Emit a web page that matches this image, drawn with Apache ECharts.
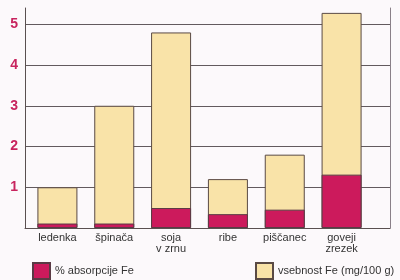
<!DOCTYPE html>
<html><head><meta charset="utf-8">
<script src="https://cdn.jsdelivr.net/npm/echarts@6/dist/echarts.min.js"></script>
<style>html,body{margin:0;padding:0;background:#fcf9fb}#c{width:400px;height:280px}</style>
</head><body><div id="c"></div>
<script>
var categories = ['ledenka', 'špinača', 'soja\nv zrnu', 'ribe', 'piščanec', 'goveji\nzrezek'];
var vsebnostFe = [1.0, 3.0, 4.8, 1.2, 1.8, 5.28];
var absorpcijaFe = [0.11, 0.11, 0.49, 0.34, 0.45, 1.31];
var yTicks = [0, 1, 2, 3, 4, 5];
var nameAbs = '% absorpcije Fe';
var nameVseb = 'vsebnost Fe (mg/100 g)';

var chart = echarts.init(document.getElementById('c'), null, {renderer: 'canvas'});
var font = '"Liberation Sans", Arial, sans-serif';
var lineCol = '#5a5050';
var yMax = 5.4;
var splitColors = yTicks.map(function(){return '#625a5e';}).concat(['rgba(0,0,0,0)']);
chart.setOption({
  backgroundColor: '#fcf9fb',
  animation: false,
  grid: [
    {left: 25, right: 10, top: 8, bottom: 52},
    {left: 29, right: 30, top: 8, bottom: 52}
  ],
  legend: [
    {data: [nameAbs], left: 32, top: 262, itemWidth: 17, itemHeight: 16, padding: 0, icon: 'rect',
     textStyle: {fontFamily: font, fontSize: 11, color: '#333'}},
    {data: [nameVseb], left: 255, top: 262, itemWidth: 17, itemHeight: 16, padding: 0, icon: 'rect',
     textStyle: {fontFamily: font, fontSize: 11, color: '#333'}}
  ],
  xAxis: [
    {type: 'category', gridIndex: 0, data: ['a'], axisLine: {show: true, lineStyle: {color: lineCol, width: 1}},
     axisTick: {show: false}, axisLabel: {show: false}, splitLine: {show: false}},
    {type: 'category', gridIndex: 1, data: categories, axisLine: {show: false}, axisTick: {show: false},
     axisLabel: {fontFamily: font, fontSize: 11, color: '#333', margin: 4, lineHeight: 11, interval: 0}}
  ],
  yAxis: [
    {type: 'value', gridIndex: 0, min: 0, max: yMax, interval: 1,
     axisLine: {show: true, lineStyle: {color: lineCol, width: 1}}, axisTick: {show: false},
     axisLabel: {fontFamily: font, fontSize: 14, fontWeight: 'bold', color: '#c8245e', margin: 7,
       formatter: function(v){ return yTicks.indexOf(v) > 0 ? String(v) : ''; }},
     splitLine: {show: true, lineStyle: {color: splitColors, width: 1}}},
    {type: 'value', gridIndex: 0, position: 'right', min: 0, max: yMax, interval: 1,
     axisLine: {show: true, lineStyle: {color: '#8a8088', width: 1}}, axisTick: {show: false},
     axisLabel: {show: false}, splitLine: {show: false}},
    {type: 'value', gridIndex: 1, min: 0, max: yMax, interval: 1, show: false, splitLine: {show: false}}
  ],
  series: [
    {name: nameVseb, type: 'bar', xAxisIndex: 1, yAxisIndex: 2, data: vsebnostFe, barWidth: 40, barGap: '-100%',
     itemStyle: {color: '#f9e3a8', borderColor: '#5a4a44', borderWidth: 1}},
    {name: nameAbs, type: 'bar', xAxisIndex: 1, yAxisIndex: 2, data: absorpcijaFe, barWidth: 40, barGap: '-100%',
     itemStyle: {color: '#cc1a5c', borderColor: '#5a3a44', borderWidth: 1}}
  ]
});
</script></body></html>
